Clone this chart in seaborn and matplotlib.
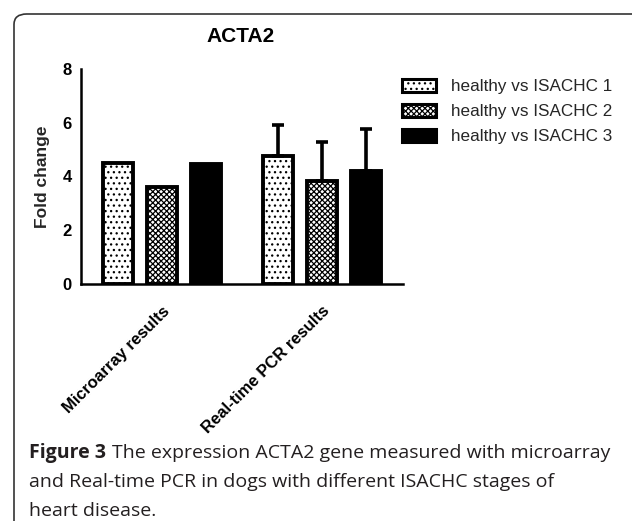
import matplotlib
matplotlib.use("Agg")
import matplotlib.pyplot as plt
from matplotlib.patches import FancyBboxPatch, Patch
import seaborn as sns
import pandas as pd
import numpy as np

groups = ["Microarray results", "Real-time PCR results"]
series = ["healthy vs ISACHC 1", "healthy vs ISACHC 2", "healthy vs ISACHC 3"]
microarray = [4.5, 3.6, 4.48]
realtime = [4.75, 3.85, 4.2]
realtime_err = [1.18, 1.42, 1.57]
yticks = [0, 2, 4, 6, 8]

rows = []
for s, m, r in zip(series, microarray, realtime):
    rows.append({"group": groups[0], "series": s, "value": m})
    rows.append({"group": groups[1], "series": s, "value": r})
df = pd.DataFrame(rows)

sns.set_theme(style="white")
plt.rcParams["font.family"] = ["Liberation Sans", "DejaVu Sans"]
plt.rcParams["hatch.linewidth"] = 0.9

fig = plt.figure(figsize=(6.32, 5.21), dpi=100)
ax = fig.add_axes([81 / 632, 1 - 284 / 521, 322 / 632, 215 / 521])

palette = {series[0]: "white", series[1]: "white", series[2]: "black"}
sns.barplot(data=df, x="group", y="value", hue="series", order=groups,
            hue_order=series, palette=palette, width=0.825, gap=0.3,
            edgecolor="black", linewidth=2.8, ax=ax, legend=False,
            errorbar=None, saturation=1)

bar_conts = list(ax.containers)
hatches = ["...", "xxxxxx", None]
for cont, h in zip(bar_conts, hatches):
    for p in cont.patches:
        if h:
            p.set_hatch(h)

# error bars (one-sided, upward) for Real-time PCR group
for i, cont in enumerate(bar_conts):
    p = cont.patches[1]
    cx = p.get_x() + p.get_width() / 2
    ax.errorbar([cx], [realtime[i]], yerr=[[0], [realtime_err[i]]],
                fmt="none", ecolor="black", elinewidth=2.6, capsize=4.6,
                capthick=2.6, zorder=1)

ax.set_xlim(-0.506, 1.506)
ax.set_ylim(0, 8)
ax.set_yticks(yticks)
ax.set_yticklabels([str(t) for t in yticks], fontsize=12, fontweight="bold")
ax.set_xticks([0, 1])
ax.set_xticklabels(groups, rotation=45, ha="right", rotation_mode="anchor",
                   fontsize=12, fontweight="bold")
ax.set_xlabel("")
ax.set_ylabel("Fold change", fontsize=12.5, fontweight="bold", labelpad=9)
for s in ["top", "right"]:
    ax.spines[s].set_visible(False)
for s in ["left", "bottom"]:
    ax.spines[s].set_linewidth(1.8)
    ax.spines[s].set_color("black")
ax.tick_params(axis="both", direction="out", length=5, width=1.8,
               color="black", labelcolor="black", pad=1.5)
ax.tick_params(axis="x", pad=9)

fig.text(241 / 632, 1 - 37 / 521, "ACTA2", fontsize=15, fontweight="bold",
         ha="center", va="center", color="black")

handles = [Patch(facecolor="white", edgecolor="black", hatch="...", linewidth=2.2),
           Patch(facecolor="white", edgecolor="black", hatch="xxxxxx", linewidth=2.2),
           Patch(facecolor="black", edgecolor="black", linewidth=2.2)]
fig.legend(handles, series, loc="upper left", bbox_to_anchor=(0.625, 0.862),
           frameon=False, fontsize=12.3, handlelength=2.0, handleheight=0.8,
           labelspacing=0.56, handletextpad=0.9, borderaxespad=0)

frame = FancyBboxPatch((14 / 632, -0.1), 1.2, 1 - 14 / 521 + 0.1,
                       boxstyle="round,pad=0,rounding_size=0.02",
                       transform=fig.transFigure, facecolor="none",
                       edgecolor="#333333", linewidth=1.2, clip_on=False)
fig.patches.append(frame)

cap_font = ["Open Sans", "DejaVu Sans"]
fs = 14
t1 = fig.text(29 / 632, 1 - 458 / 521, "Figure 3", fontsize=fs, fontweight="bold",
              family=cap_font, va="baseline", color="#231f20")
fig.canvas.draw()
bb = t1.get_window_extent(renderer=fig.canvas.get_renderer())
x2 = bb.x1 / fig.bbox.width + 6 / 632
fig.text(x2, 1 - 458 / 521,
         "The expression ACTA2 gene measured with microarray",
         fontsize=fs, family=cap_font, va="baseline", color="#231f20")
fig.text(29 / 632, 1 - 487 / 521,
         "and Real-time PCR in dogs with different ISACHC stages of",
         fontsize=fs, family=cap_font, va="baseline", color="#231f20")
fig.text(29 / 632, 1 - 516 / 521, "heart disease.",
         fontsize=fs, family=cap_font, va="baseline", color="#231f20")

fig.savefig("out.png", dpi=100)
